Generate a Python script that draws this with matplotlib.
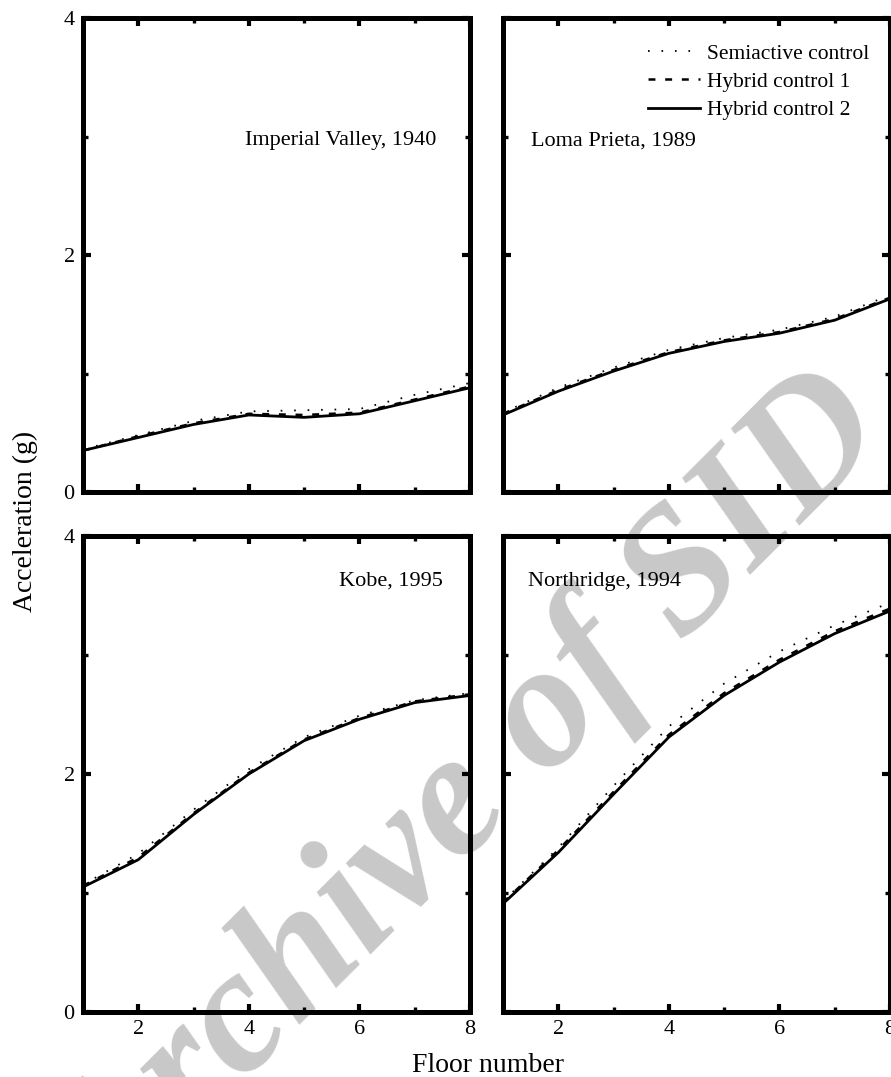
import matplotlib
matplotlib.use("Agg")
import matplotlib.pyplot as plt
from matplotlib.ticker import MultipleLocator

plt.rcParams['font.family'] = ['Liberation Serif', 'DejaVu Serif']
plt.rcParams['lines.scale_dashes'] = False
plt.rcParams['xtick.labelsize'] = 16
plt.rcParams['ytick.labelsize'] = 16

floors = [1, 2, 3, 4, 5, 6, 7, 8]

records = ["Imperial Valley, 1940", "Loma Prieta, 1989", "Kobe, 1995", "Northridge, 1994"]

# Peak floor acceleration (g)
semiactive_imperial = [0.36, 0.48, 0.60, 0.68, 0.69, 0.70, 0.82, 0.92]
hybrid1_imperial    = [0.35, 0.47, 0.58, 0.66, 0.65, 0.67, 0.78, 0.89]
hybrid2_imperial    = [0.35, 0.46, 0.57, 0.65, 0.63, 0.66, 0.77, 0.88]

semiactive_loma = [0.67, 0.88, 1.05, 1.20, 1.30, 1.37, 1.48, 1.66]
hybrid1_loma    = [0.66, 0.86, 1.03, 1.18, 1.28, 1.35, 1.46, 1.64]
hybrid2_loma    = [0.65, 0.85, 1.02, 1.17, 1.27, 1.34, 1.45, 1.63]

semiactive_kobe = [1.07, 1.33, 1.70, 2.04, 2.31, 2.49, 2.62, 2.68]
hybrid1_kobe    = [1.06, 1.30, 1.67, 2.01, 2.29, 2.47, 2.61, 2.67]
hybrid2_kobe    = [1.05, 1.28, 1.66, 2.00, 2.28, 2.46, 2.60, 2.66]

semiactive_north = [0.93, 1.38, 1.90, 2.40, 2.76, 3.03, 3.25, 3.44]
hybrid1_north    = [0.92, 1.36, 1.85, 2.33, 2.68, 2.96, 3.20, 3.39]
hybrid2_north    = [0.91, 1.34, 1.83, 2.31, 2.66, 2.94, 3.18, 3.37]

series = [
    (semiactive_imperial, hybrid1_imperial, hybrid2_imperial),
    (semiactive_loma, hybrid1_loma, hybrid2_loma),
    (semiactive_kobe, hybrid1_kobe, hybrid2_kobe),
    (semiactive_north, hybrid1_north, hybrid2_north),
]
legend_labels = ["Semiactive control", "Hybrid control 1", "Hybrid control 2"]

W, H = 891, 1077
fig = plt.figure(figsize=(W / 100, H / 100), dpi=100)

# panel boxes in pixels: left, top, right, bottom
boxes = [(83, 18, 470, 492), (503, 18, 890, 492),
         (83, 536, 470, 1012), (503, 536, 890, 1012)]
text_pos = [(0.418, 0.741), (0.072, 0.741), (0.662, 0.905), (0.064, 0.905)]

axes = []
for i, (l, t, r, b) in enumerate(boxes):
    ax = fig.add_axes([l / W, 1 - b / H, (r - l) / W, (b - t) / H])
    ax.patch.set_alpha(0)
    semi, hyb1, hyb2 = series[i]
    ax.plot(floors, semi, color='black', lw=1.3, linestyle=(0, (1.2, 8.5)),
            label=legend_labels[0], zorder=3)
    ax.plot(floors, hyb1, color='black', lw=1.8, linestyle=(0, (5, 7)),
            label=legend_labels[1], zorder=3)
    ax.plot(floors, hyb2, color='black', lw=2.0, linestyle='-',
            label=legend_labels[2], zorder=4)
    ax.set_xlim(1, 8)
    ax.set_ylim(0, 4)
    ax.xaxis.set_major_locator(MultipleLocator(2))
    ax.xaxis.set_minor_locator(MultipleLocator(1))
    ax.yaxis.set_major_locator(MultipleLocator(2))
    ax.yaxis.set_minor_locator(MultipleLocator(1))
    for s in ax.spines.values():
        s.set_linewidth(3.6)
    ax.tick_params(which='major', direction='in', length=5.5, width=3.0,
                   top=True, right=True)
    ax.tick_params(which='minor', direction='in', length=3.5, width=2.4,
                   top=True, right=True)
    ax.tick_params(axis='x', which='major', pad=6)
    ax.tick_params(axis='y', which='major', pad=6)
    if i in (0, 1):
        ax.tick_params(labelbottom=False)
    if i in (1, 3):
        ax.tick_params(labelleft=False)
    ax.xaxis.set_major_formatter(lambda v, p: "" if v < 1.5 else f"{v:g}")
    ax.text(text_pos[i][0], text_pos[i][1], records[i], transform=ax.transAxes,
            ha='left', va='center', fontsize=16)
    axes.append(ax)

axes[1].legend(loc='upper left', bbox_to_anchor=(0.374, 0.946), frameon=False,
               fontsize=15.5, handlelength=2.45, handletextpad=0.28,
               labelspacing=0.38, borderpad=0, borderaxespad=0)

fig.text(25 / W, 1 - 521 / H, "Acceleration (g)", rotation=90,
         ha='center', va='center', fontsize=20)
fig.text(488 / W, 1 - 1066 / H, "Floor number", ha='center', va='center',
         fontsize=20)

fig.text(472 / W, 1 - 800 / H, "Archive of SID", rotation=45,
         rotation_mode='anchor', ha='center', va='center',
         fontsize=128, fontweight='bold', fontstyle='italic',
         color='#c8c8c8', zorder=-5)

fig.savefig("out.png", dpi=100)
